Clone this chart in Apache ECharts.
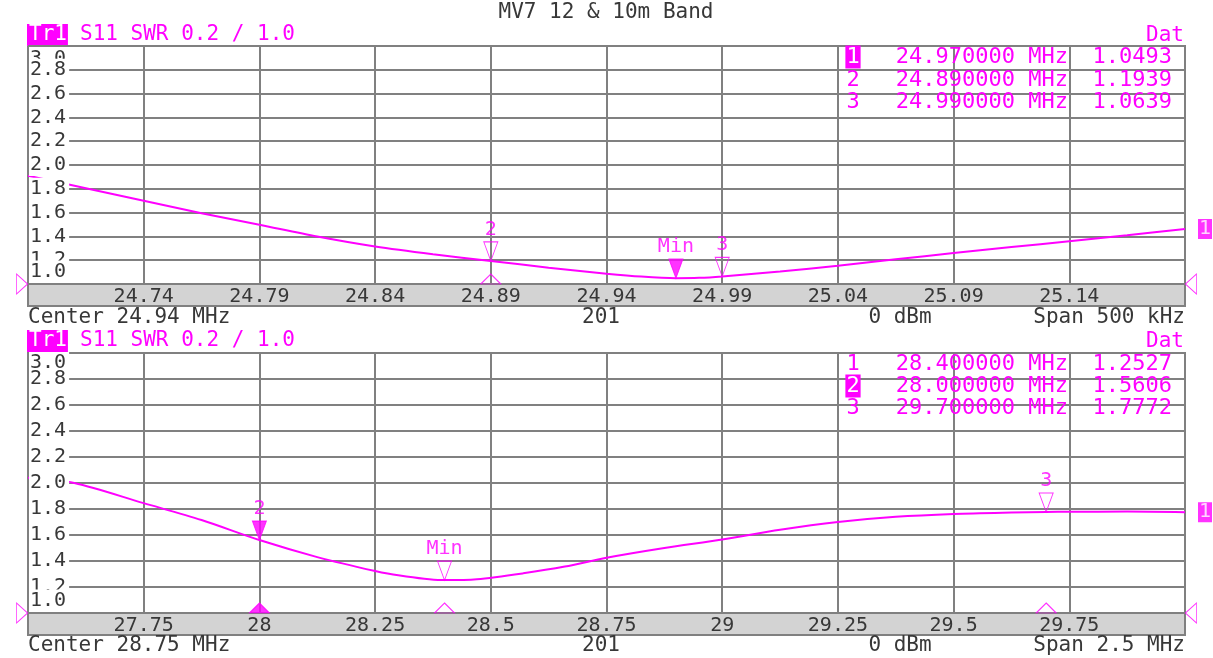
<!DOCTYPE html>
<html><head><meta charset="utf-8">
<script src="https://cdn.jsdelivr.net/npm/echarts@6/dist/echarts.min.js"></script>
<style>html,body{margin:0;padding:0;background:#fff}#c{width:1213px;height:658px}</style>
</head><body><div id="c"></div>
<script>
// ---------- data ----------
const TITLE = 'MV7 12 & 10m Band';
const HEADER = 'S11 SWR 0.2 / 1.0';
const Y_MIN = 1.0, Y_MAX = 3.0, Y_STEP = 0.2;

// top panel (12 m band)
const topRange = [24.69, 25.19];
const topStep = 0.05;
const topFreq = [24.69, 24.715, 24.74, 24.765, 24.79, 24.815, 24.84, 24.865, 24.89, 24.915, 24.94, 24.955, 24.97, 24.98, 24.99, 25.015, 25.04, 25.065, 25.09, 25.115, 25.14, 25.165, 25.19];
const topSwr  = [1.91, 1.805, 1.699, 1.595, 1.498, 1.399, 1.315, 1.25, 1.194, 1.137, 1.087, 1.062, 1.049, 1.052, 1.064, 1.105, 1.153, 1.207, 1.26, 1.31, 1.36, 1.41, 1.462];
const topMkNum = ['1', '2', '3'];
const topMkLabel = ['Min', '2', '3'];
const topMkFreq = [24.97, 24.89, 24.99];
const topMkSwr = [1.0493, 1.1939, 1.0639];
const topActive = 0;
const topStimFreq = [24.89];
const topStimFilled = [false];
const topFooter = ['Center 24.94 MHz', '201', '0 dBm', 'Span 500 kHz'];

// bottom panel (10 m band)
const botRange = [27.5, 30.0];
const botStep = 0.25;
const botFreq = [27.5, 27.6, 27.75, 27.875, 28.0, 28.125, 28.25, 28.3, 28.4, 28.47, 28.57, 28.66, 28.75, 28.875, 29.0, 29.125, 29.25, 29.375, 29.5, 29.625, 29.7, 29.75, 29.875, 30.0];
const botSwr  = [2.04, 2.0, 1.845, 1.715, 1.561, 1.43, 1.323, 1.29, 1.253, 1.26, 1.305, 1.357, 1.425, 1.50, 1.565, 1.64, 1.70, 1.74, 1.762, 1.773, 1.777, 1.779, 1.78, 1.775];
const botMkNum = ['1', '2', '3'];
const botMkLabel = ['Min', '2', '3'];
const botMkFreq = [28.4, 28.0, 29.7];
const botMkSwr = [1.2527, 1.5606, 1.7772];
const botActive = 1;
const botStimFreq = [28.0, 28.4, 29.7];
const botStimFilled = [true, false, false];
const botFooter = ['Center 28.75 MHz', '201', '0 dBm', 'Span 2.5 MHz'];

// ---------- styling / layout ----------
const FONT = 'DejaVu Sans Mono';
const MAG = '#ff00ff';
const TXT = '#383838';
const GRIDC = '#808080';
const BAND = '#d3d3d3';
const LEFT = 28, WIDTH = 1157, BAND_H = 22;

const panels = [
  {range: topRange, step: topStep, freq: topFreq, swr: topSwr, mkNum: topMkNum, mkLabel: topMkLabel, mkFreq: topMkFreq, mkSwr: topMkSwr, active: topActive, stimFreq: topStimFreq, stimFilled: topStimFilled, footer: topFooter,
   L: {top: 46, height: 238, hdrY: 35, rowY: [57, 80, 102], footY: 318, hiShift: 13, loShift: 12.5}},
  {range: botRange, step: botStep, freq: botFreq, swr: botSwr, mkNum: botMkNum, mkLabel: botMkLabel, mkFreq: botMkFreq, mkSwr: botMkSwr, active: botActive, stimFreq: botStimFreq, stimFilled: botStimFilled, footer: botFooter,
   L: {top: 353, height: 260, hdrY: 341, rowY: [364, 386, 408], footY: 646, hiShift: 10, loShift: 12.5}}
];

const near = (a, b) => Math.abs(a - b) < 1e-6;
const DOWN = 'path://M0,0 L14,0 L7,19 Z';
const UP = 'path://M10,0 L20,10 L0,10 Z';
const RIGHT = 'path://M0,0 L11,10 L0,20 Z';
const LEFTTRI = 'path://M11,0 L0,10 L11,20 Z';

const grids = [], xAxes = [], yAxes = [], series = [], graphics = [];

graphics.push({type: 'text', x: 606, y: 13, style: {text: TITLE, fontFamily: FONT, fontSize: 21, fill: TXT, align: 'center', verticalAlign: 'middle'}});

panels.forEach((p, i) => {
  const L = p.L;
  grids.push({left: LEFT, top: L.top, width: WIDTH, height: L.height, show: true, borderColor: GRIDC, borderWidth: 2, backgroundColor: 'transparent'});
  xAxes.push({
    gridIndex: i, type: 'value', min: p.range[0], max: p.range[1], interval: p.step,
    axisLine: {show: false, onZero: false}, axisTick: {show: false},
    splitLine: {show: true, lineStyle: {color: GRIDC, width: 2}},
    axisLabel: {margin: 3, fontFamily: FONT, fontSize: 20, color: TXT,
      formatter: v => (near(v, p.range[0]) || near(v, p.range[1])) ? '' : String(parseFloat(v.toFixed(2)))}
  });
  const base = {gridIndex: i, type: 'value', min: Y_MIN, max: Y_MAX, interval: Y_STEP, position: 'left', offset: 0,
    axisLine: {show: false, onZero: false}, axisTick: {show: false}};
  const tok = {fontFamily: FONT, fontSize: 20, color: TXT, backgroundColor: '#fff', padding: [1, 3, 1, 1]};
  yAxes.push(Object.assign({}, base, {z: 0, splitLine: {show: true, lineStyle: {color: GRIDC, width: 2}}, axisLabel: {show: false}}));
  yAxes.push(Object.assign({}, base, {z: 4, splitLine: {show: false}, axisLabel: {inside: true, margin: 1,
    formatter: v => (near(v, Y_MIN) || near(v, Y_MAX)) ? '' : '{n|' + v.toFixed(1) + '}', rich: {n: tok}}}));
  yAxes.push(Object.assign({}, base, {z: 3, splitLine: {show: false}, axisLabel: {inside: true, margin: 1,
    formatter: v => near(v, Y_MAX) ? '{h|' + v.toFixed(1) + '}' : '',
    rich: {h: Object.assign({}, tok, {lineHeight: 2 * (L.hiShift + 11), verticalAlign: 'bottom'})}}}));
  yAxes.push(Object.assign({}, base, {z: 5, splitLine: {show: false}, axisLabel: {inside: true, margin: 1,
    formatter: v => near(v, Y_MIN) ? '{l|' + v.toFixed(1) + '}' : '',
    rich: {l: Object.assign({}, tok, {lineHeight: 2 * (L.loShift + 11), verticalAlign: 'top'})}}}));

  const yi = 4 * i;
  series.push({type: 'line', xAxisIndex: i, yAxisIndex: yi, z: 2, silent: true, smooth: 0.3, showSymbol: false,
    lineStyle: {color: MAG, width: 2}, data: p.freq.map((f, k) => [f, p.swr[k]])});
  series.push({type: 'scatter', xAxisIndex: i, yAxisIndex: yi, z: 6, silent: true, clip: false,
    symbol: DOWN, symbolSize: [14, 19], symbolOffset: [0, -9.5],
    label: {show: true, position: 'top', distance: 2, color: MAG, fontFamily: FONT, fontSize: 20},
    data: p.mkFreq.map((f, k) => ({value: [f, p.mkSwr[k]],
      itemStyle: {color: k === p.active ? MAG : 'rgba(0,0,0,0)', borderColor: MAG, borderWidth: 1},
      label: {formatter: p.mkLabel[k]}}))});
  series.push({type: 'scatter', xAxisIndex: i, yAxisIndex: yi, z: 6, silent: true, clip: false,
    symbol: UP, symbolSize: [20, 10], symbolOffset: [0, -5],
    data: p.stimFreq.map((f, k) => ({value: [f, Y_MIN],
      itemStyle: {color: p.stimFilled[k] ? MAG : 'rgba(0,0,0,0)', borderColor: MAG, borderWidth: 1}}))});
  series.push({type: 'scatter', xAxisIndex: i, yAxisIndex: yi, z: 6, silent: true, clip: false,
    symbolSize: [11, 20], itemStyle: {color: 'rgba(0,0,0,0)', borderColor: MAG, borderWidth: 1},
    data: [{value: [p.range[0], Y_MIN], symbol: RIGHT, symbolOffset: [-6, 0]},
           {value: [p.range[1], Y_MIN], symbol: LEFTTRI, symbolOffset: [6, 0]}]});
  const n = p.freq.length - 1;
  series.push({type: 'scatter', xAxisIndex: i, yAxisIndex: yi, z: 6, silent: true, clip: false,
    symbol: 'rect', symbolSize: [14, 20], symbolOffset: [20, 0], itemStyle: {color: MAG},
    label: {show: true, position: 'inside', formatter: '1', color: '#fff', fontFamily: FONT, fontSize: 20},
    data: [[p.freq[n], p.swr[n]]]});

  graphics.push({type: 'text', x: 27, y: L.hdrY, style: {text: 'Tr1', fill: '#fff', backgroundColor: MAG, padding: [1, 1, 0, 2], fontFamily: FONT, fontSize: 21, verticalAlign: 'middle'}});
  graphics.push({type: 'text', x: 80, y: L.hdrY, style: {text: HEADER, fill: MAG, fontFamily: FONT, fontSize: 21, verticalAlign: 'middle'}});
  graphics.push({type: 'text', x: 1184, y: L.hdrY + 1, style: {text: 'Dat', fill: MAG, fontFamily: FONT, fontSize: 21, align: 'right', verticalAlign: 'middle'}});
  graphics.push({type: 'rect', z: -1, shape: {x: LEFT, y: L.top + L.height, width: WIDTH, height: BAND_H}, style: {fill: BAND, stroke: GRIDC, lineWidth: 2}});
  p.mkNum.forEach((m, k) => {
    const y = L.rowY[k];
    const act = k === p.active;
    graphics.push({type: 'text', z: 10, x: 853, y: y, style: {text: m, fill: act ? '#fff' : MAG, backgroundColor: act ? MAG : 'transparent', padding: [1, 1, 0, 1], fontFamily: FONT, fontSize: 22, align: 'center', verticalAlign: 'middle'}});
    graphics.push({type: 'text', z: 10, x: 1068, y: y, style: {text: p.mkFreq[k].toFixed(6) + ' MHz', fill: MAG, fontFamily: FONT, fontSize: 22, align: 'right', verticalAlign: 'middle'}});
    graphics.push({type: 'text', z: 10, x: 1172, y: y, style: {text: p.mkSwr[k].toFixed(4), fill: MAG, fontFamily: FONT, fontSize: 22, align: 'right', verticalAlign: 'middle'}});
  });
  const fx = [28, 601, 900, 1185], fa = ['left', 'center', 'center', 'right'];
  p.footer.forEach((t, k) => graphics.push({type: 'text', x: fx[k], y: L.footY, style: {text: t, fill: TXT, fontFamily: FONT, fontSize: 21, align: fa[k], verticalAlign: 'middle'}}));
});

const chart = echarts.init(document.getElementById('c'), null, {renderer: 'canvas'});
chart.setOption({
  animation: false,
  backgroundColor: '#fff',
  grid: grids, xAxis: xAxes, yAxis: yAxes, series: series, graphic: graphics
});
</script></body></html>
